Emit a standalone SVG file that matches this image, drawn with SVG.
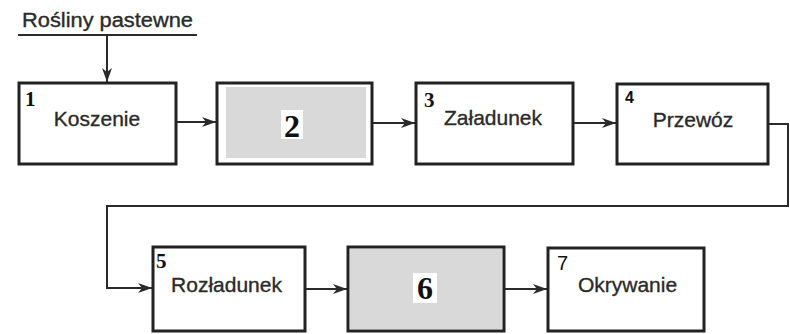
<svg xmlns="http://www.w3.org/2000/svg" width="790" height="334" viewBox="0 0 790 334">
<defs>
<style>
.box{fill:#fff;stroke:#222;stroke-width:3}
.gray{fill:#d9d9d9}
.lbl{font-family:"Liberation Sans",Arial,sans-serif;font-size:21px;fill:#2a2a2a;stroke:#2a2a2a;stroke-width:0.35;text-anchor:middle}
.num{font-family:"Liberation Serif","Times New Roman",serif;font-weight:bold;font-size:21px;fill:#111}
.big{font-family:"Liberation Serif","Times New Roman",serif;font-weight:bold;font-size:32px;fill:#111;text-anchor:middle}
.con{fill:none;stroke:#2a2a2a;stroke-width:2}
</style>
<marker id="ah" viewBox="0 0 14 10" refX="14" refY="5" markerWidth="14" markerHeight="10" markerUnits="userSpaceOnUse" orient="auto">
<path d="M0,0 L14,5 L0,10 L4,5 Z" fill="#2a2a2a"/>
</marker>
</defs>
<rect width="790" height="334" fill="#fff"/>
<g id="input">
<text x="22" y="27" font-family="'Liberation Sans',Arial,sans-serif" font-size="20" fill="#2a2a2a" stroke="#2a2a2a" stroke-width="0.35" textLength="171" lengthAdjust="spacingAndGlyphs">Rośliny pastewne</text>
</g>
<g id="n1">
<rect class="box" x="19" y="83" width="157" height="81"/>
<text class="num" x="25" y="106">1</text>
<text class="lbl" x="97" y="126">Koszenie</text>
</g>
<g id="n2">
<rect class="box" x="217" y="83" width="155" height="81"/>
<rect class="gray" x="226" y="87" width="140" height="71"/>
<rect x="281" y="110" width="22" height="29" fill="#fff"/>
<text class="big" x="292" y="137">2</text>
</g>
<g id="n3">
<rect class="box" x="416" y="83" width="157" height="81"/>
<text class="num" x="424" y="107">3</text>
<text class="lbl" x="493" y="125">Załadunek</text>
</g>
<g id="n4">
<rect class="box" x="617" y="84" width="151" height="80"/>
<text x="625" y="103" font-family="'Liberation Sans',Arial,sans-serif" font-weight="bold" font-size="16" fill="#111">4</text>
<text class="lbl" x="693" y="127">Przewóz</text>
</g>
<g id="n5">
<rect class="box" x="153" y="247" width="152" height="84"/>
<text class="num" x="156" y="268">5</text>
<text class="lbl" x="226.5" y="292">Rozładunek</text>
</g>
<g id="n6">
<rect class="box" x="348" y="247" width="156" height="84"/>
<rect class="gray" x="350" y="249" width="152" height="80"/>
<rect x="413" y="273" width="24" height="30" fill="#fff"/>
<text class="big" x="425" y="299">6</text>
</g>
<g id="n7">
<rect class="box" x="548" y="248" width="156" height="83"/>
<text x="557" y="270" font-family="'Liberation Sans',Arial,sans-serif" font-size="20" fill="#111">7</text>
<text class="lbl" x="627.5" y="292">Okrywanie</text>
</g>
<g id="connectors">
<line class="con" x1="18" y1="35" x2="197" y2="35"/>
<line class="con" x1="107" y1="35" x2="107" y2="82" marker-end="url(#ah)"/>
<line class="con" x1="177" y1="122" x2="216" y2="122" marker-end="url(#ah)"/>
<line class="con" x1="373" y1="123" x2="415" y2="123" marker-end="url(#ah)"/>
<line class="con" x1="574" y1="123" x2="616" y2="123" marker-end="url(#ah)"/>
<path class="con" d="M769,124 H788 V206 H107 V288 H152" marker-end="url(#ah)"/>
<line class="con" x1="306" y1="289" x2="347" y2="289" marker-end="url(#ah)"/>
<line class="con" x1="505" y1="289" x2="547" y2="289" marker-end="url(#ah)"/>
</g>
</svg>
